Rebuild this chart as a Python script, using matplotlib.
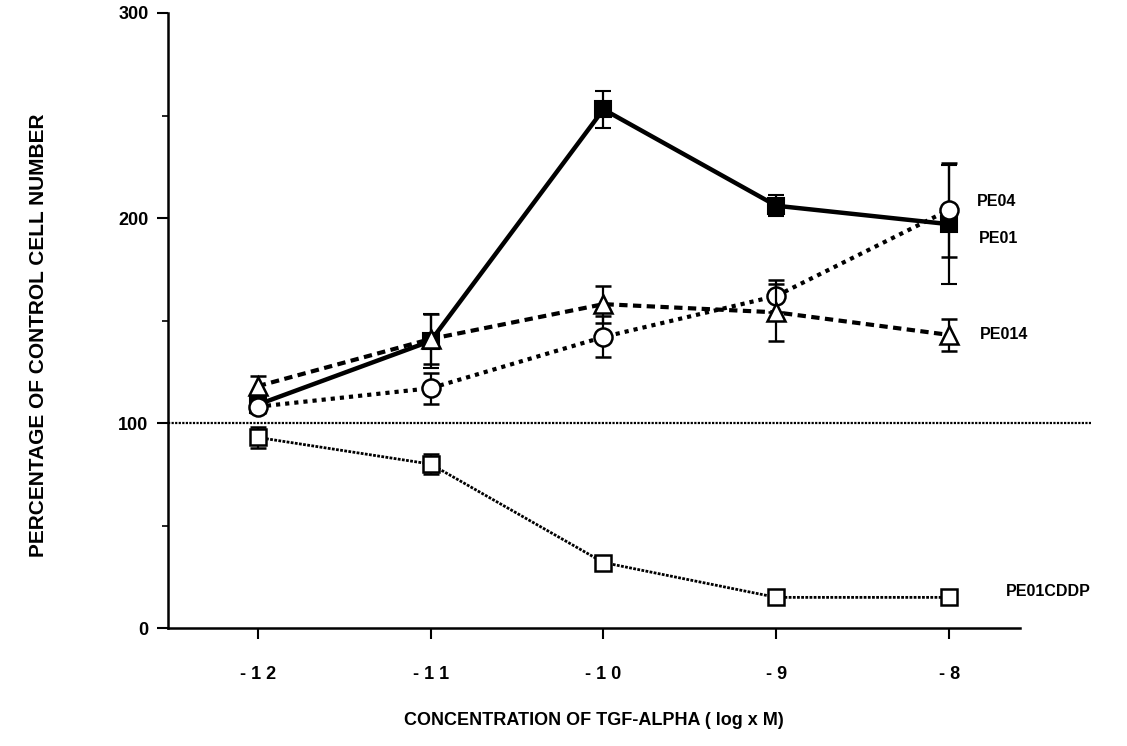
import matplotlib
matplotlib.use("Agg")
import matplotlib.pyplot as plt
from matplotlib.ticker import MultipleLocator

plt.rcParams['font.family'] = ['Liberation Sans', 'DejaVu Sans']
plt.rcParams['font.weight'] = 'bold'

log_conc = [-12, -11, -10, -9, -8]
x_tick_labels = ["- 1 2", "- 1 1", "- 1 0", "- 9", "- 8"]

pe01 = [109, 140, 253, 206, 197]
pe01_err = [2, 13, 9, 5, 29]
pe04 = [108, 117, 142, 162, 204]
pe04_err = [3, 7.5, 10, 8, 23]
pe014 = [118, 141, 158, 154, 143]
pe014_err = [5, 12, 9, 14, 8]
pe01cddp = [93, 80, 32, 15, 15]
pe01cddp_err = [5, 5, 2, 1, 1]

series_names = ["PE04", "PE01", "PE014", "PE01CDDP"]
label_pos_x = [-7.84, -7.83, -7.82, -7.67]
label_pos_y = [208, 190, 143, 18]

fig = plt.figure(figsize=(11.27, 7.46), dpi=100)
ax = fig.add_axes([0.149, 0.158, 0.756, 0.8246])

ax.set_xlim(-12.52, -7.59)
ax.set_ylim(0, 300)

# reference line at 100
ax.plot([-12.52, -7.18], [100, 100], color='black', lw=1.6, ls=(0, (1, 0.6)),
        clip_on=False, zorder=1)

ek = dict(ecolor='black', elinewidth=1.6, capsize=6, capthick=1.6)

ax.errorbar(log_conc, pe01cddp, yerr=pe01cddp_err, color='black', lw=2.0,
            ls=(0, (1, 0.5)), marker='s', ms=11, mfc='white', mec='black',
            mew=1.8, zorder=3, **ek)
ax.errorbar(log_conc, pe01, yerr=pe01_err, color='black', lw=3.2,
            ls='-', marker='s', ms=12, mfc='black', mec='black',
            mew=1.5, zorder=4, **ek)
ax.errorbar(log_conc, pe04, yerr=pe04_err, color='black', lw=3.0,
            ls=(0, (1, 1.2)), marker='o', ms=13, mfc='white', mec='black',
            mew=1.8, zorder=5, **ek)
ax.errorbar(log_conc, pe014, yerr=pe014_err, color='black', lw=3.0,
            ls=(0, (2, 1.3)), marker='^', ms=13, mfc='white', mec='black',
            mew=1.8, zorder=6, **ek)

for name, tx, ty in zip(series_names, label_pos_x, label_pos_y):
    ax.text(tx, ty, name, fontsize=11.5, fontweight='bold', ha='left',
            va='center', clip_on=False)

for s in ['top', 'right']:
    ax.spines[s].set_visible(False)
for s in ['left', 'bottom']:
    ax.spines[s].set_linewidth(1.8)

ax.set_xticks(log_conc)
ax.set_xticklabels(x_tick_labels)
ax.set_yticks([0, 100, 200, 300])
ax.yaxis.set_minor_locator(MultipleLocator(50))
ax.tick_params(axis='both', which='major', direction='out', length=8,
               width=1.5, labelsize=13)
ax.tick_params(axis='x', which='major', pad=19)
ax.tick_params(axis='y', which='minor', direction='out', length=4, width=1.2)
ax.tick_params(axis='y', which='major', pad=6)
for lab in ax.get_xticklabels() + ax.get_yticklabels():
    lab.set_fontweight('bold')

ax.set_ylabel("PERCENTAGE OF CONTROL CELL NUMBER", fontsize=15,
              fontweight='bold')
ax.yaxis.set_label_coords(-0.141, 0.476)
ax.set_xlabel("CONCENTRATION OF TGF-ALPHA ( log x M)", fontsize=13,
              fontweight='bold', labelpad=21)

fig.savefig("out.png", dpi=100)
